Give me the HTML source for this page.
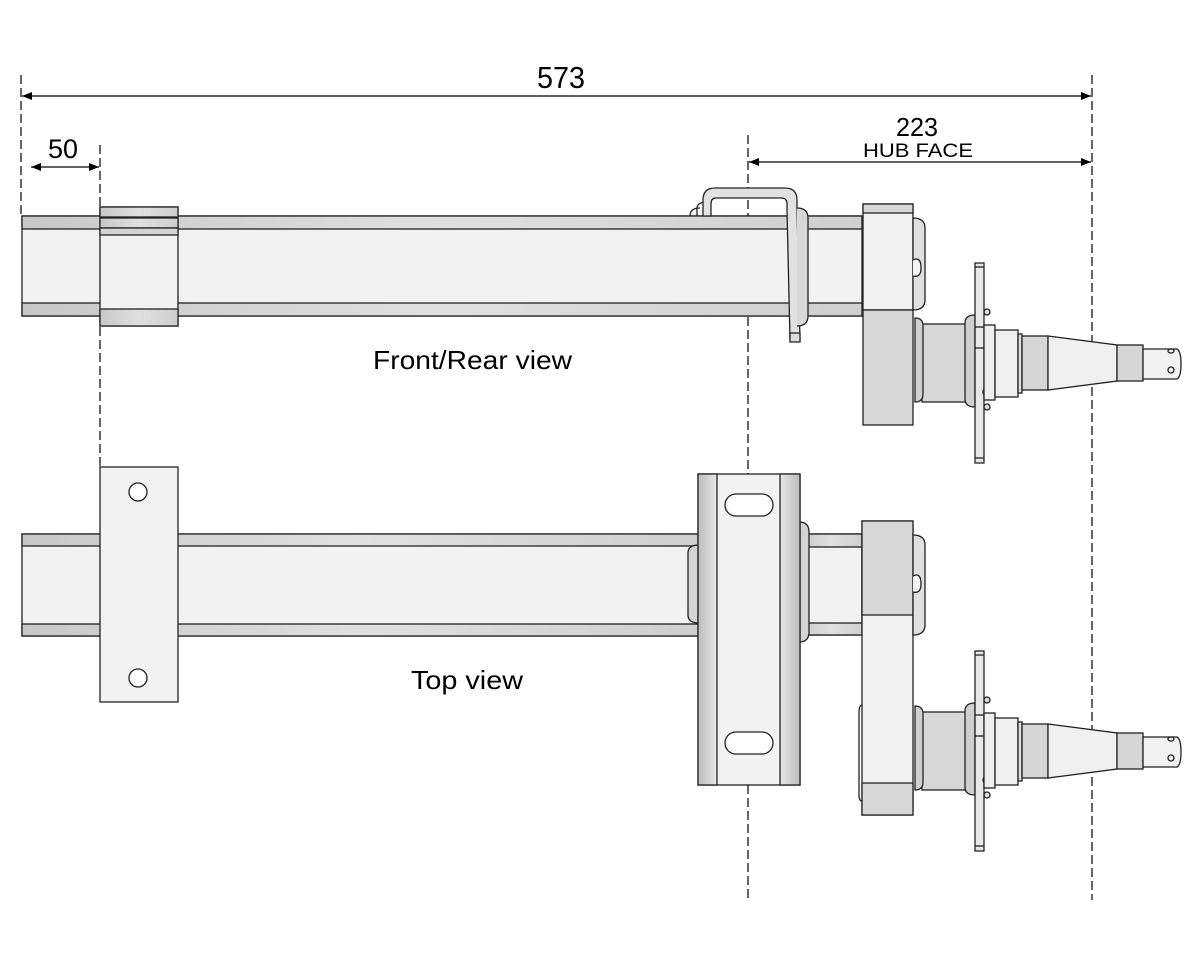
<!DOCTYPE html>
<html><head><meta charset="utf-8"><style>html,body{margin:0;padding:0;background:#fff}svg{display:block}</style></head>
<body>
<svg width="1200" height="960" viewBox="0 0 1200 960" xmlns="http://www.w3.org/2000/svg" font-family="Liberation Sans, sans-serif">
<defs>
<linearGradient id="g1" x1="0" x2="1"><stop offset="0" stop-color="#c8c8c8"/><stop offset="0.5" stop-color="#e0e0e0"/><stop offset="1" stop-color="#cfcfcf"/></linearGradient>
<linearGradient id="gv" x1="0" x2="1"><stop offset="0" stop-color="#bdbdbd"/><stop offset="1" stop-color="#e6e6e6"/></linearGradient>
<linearGradient id="gv2" x1="0" x2="1"><stop offset="0" stop-color="#e6e6e6"/><stop offset="1" stop-color="#bdbdbd"/></linearGradient>
<marker id="ae" viewBox="0 0 10 10" refX="10" refY="5" markerWidth="12" markerHeight="10" markerUnits="userSpaceOnUse" orient="auto"><path d="M0,1 L10,5 L0,9 z" fill="#000"/></marker>
<marker id="as" viewBox="0 0 10 10" refX="0" refY="5" markerWidth="12" markerHeight="10" markerUnits="userSpaceOnUse" orient="auto"><path d="M10,1 L0,5 L10,9 z" fill="#000"/></marker>
<g id="spindle" stroke="#222" stroke-width="1.3">
  <rect x="922" y="324" width="46" height="78" fill="#d8d8d8"/>
  <path d="M915,318 q8,0 8,8 v68 q0,8 -8,8 z" fill="#d0d0d0"/>
  <path d="M975,315 q-10,0 -10,8 v76 q0,8 10,8 z" fill="#d0d0d0"/>
  <rect x="975" y="263" width="9" height="200" fill="#e8e8e8"/>
  <line x1="975" y1="267" x2="984" y2="267"/><line x1="975" y1="458" x2="984" y2="458"/>
  <line x1="975" y1="327" x2="984" y2="327"/><line x1="975" y1="348" x2="984" y2="348"/>
  <circle cx="987" cy="312" r="3" fill="#ddd"/><circle cx="987" cy="392" r="4" fill="#ddd"/><circle cx="987" cy="407" r="3" fill="#ddd"/>
  <rect x="984" y="325" width="11" height="75" fill="#eee"/>
  <rect x="995" y="330" width="23" height="67" fill="#f0f0f0"/>
  <rect x="1018" y="334" width="4" height="59" fill="#ddd"/>
  <rect x="1022" y="336" width="26" height="54" fill="#d6d6d6"/>
  <path d="M1048,336 L1117,345 V381 L1048,390 z" fill="#f0f0f0"/>
  <rect x="1117" y="345" width="26" height="36" fill="#d6d6d6"/>
  <path d="M1143,349 H1177 q4,2 4,15 q0,13 -4,15 H1143 z" fill="#f2f2f2"/>
  <ellipse cx="1171" cy="351" rx="3" ry="2" fill="none"/><ellipse cx="1171" cy="370" rx="3" ry="3" fill="none"/>
</g>
</defs>

<g stroke="#000" stroke-width="1.2" stroke-dasharray="9,4" fill="none">
  <line x1="21" y1="75" x2="21" y2="215"/>
  <line x1="100" y1="145" x2="100" y2="470"/>
  <line x1="748" y1="135" x2="748" y2="900"/>
  <line x1="1092" y1="75" x2="1092" y2="900"/>
</g>
<g stroke="#000" stroke-width="1.3">
  <line x1="22" y1="96" x2="1091" y2="96" marker-start="url(#as)" marker-end="url(#ae)"/>
  <line x1="31" y1="167" x2="99" y2="167" marker-start="url(#as)" marker-end="url(#ae)"/>
  <line x1="749" y1="162" x2="1091" y2="162" marker-start="url(#as)" marker-end="url(#ae)"/>
</g>
<text x="561" y="88" font-size="31" text-anchor="middle" textLength="48" lengthAdjust="spacingAndGlyphs">573</text>
<text x="63" y="158" font-size="27" text-anchor="middle" textLength="30" lengthAdjust="spacingAndGlyphs">50</text>
<text x="917" y="136" font-size="26" text-anchor="middle" textLength="42" lengthAdjust="spacingAndGlyphs">223</text>
<text x="918" y="157" font-size="19" text-anchor="middle" textLength="110" lengthAdjust="spacingAndGlyphs">HUB FACE</text>

<g stroke="#222" stroke-width="1.3">
  <rect x="22" y="216" width="840" height="100" fill="#f2f2f2"/>
  <rect x="22" y="216" width="840" height="13" fill="url(#g1)"/>
  <rect x="22" y="303" width="840" height="13" fill="url(#g1)"/>
  <rect x="100" y="207" width="78" height="119" fill="#f2f2f2"/>
  <rect x="100" y="207" width="78" height="10" fill="url(#g1)"/>
  <rect x="100" y="218" width="78" height="10" fill="url(#g1)"/>
  <rect x="100" y="228" width="78" height="7" fill="#d4d4d4"/>
  <rect x="100" y="309" width="78" height="17" fill="url(#g1)"/>
  <path d="M697,216 v-8 q0,-5 8,-6 M690,216 q0,-8 10,-8" fill="none"/>
  <path d="M703,216 V200 q0,-12 12,-12 H785 q12,0 12,12 V208 L800,340 H790 L787,210 V204 q0,-6 -6,-6 H716 q-5,0 -5,6 V216 z" fill="#e2e2e2"/>
  <rect x="790" y="333" width="10" height="9" fill="#ddd"/>
  <path d="M797,208 q11,0 11,10 V316 q0,10 -11,10" fill="#d8d8d8"/>
  <rect x="863" y="204" width="50" height="106" fill="#f2f2f2"/>
  <rect x="863" y="204" width="50" height="9" fill="#d8d8d8"/>
  <rect x="863" y="310" width="50" height="115" fill="#d8d8d8"/>
  <path d="M913,218 q12,0 12,10 V300 q0,10 -12,10 z" fill="#e0e0e0"/>
  <path d="M913,260 q8,-4 8,8 q0,10 -8,8" fill="#f4f4f4"/>
</g>
<use href="#spindle"/>
<text x="373" y="369" font-size="26" textLength="199" lengthAdjust="spacingAndGlyphs">Front/Rear view</text>

<g stroke="#222" stroke-width="1.3">
  <rect x="22" y="534" width="678" height="102" fill="#f2f2f2"/>
  <rect x="22" y="534" width="678" height="12" fill="url(#g1)"/>
  <rect x="22" y="624" width="678" height="12" fill="url(#g1)"/>
  <rect x="800" y="534" width="62" height="101" fill="#f2f2f2"/>
  <rect x="800" y="534" width="62" height="13" fill="url(#g1)"/>
  <rect x="800" y="623" width="62" height="12" fill="url(#g1)"/>
  <rect x="100" y="467" width="78" height="235" fill="#f2f2f2"/>
  <circle cx="138" cy="492" r="9" fill="#fff"/>
  <circle cx="138" cy="678" r="9" fill="#fff"/>
  <path d="M699,545 q-11,0 -11,8 V615 q0,8 11,8 z" fill="#d4d4d4"/>
  <path d="M799,522 q10,0 10,10 V632 q0,10 -10,10 z" fill="#d4d4d4"/>
  <rect x="698" y="474" width="102" height="311" fill="#f2f2f2"/>
  <rect x="698" y="474" width="19" height="311" fill="url(#gv)"/>
  <rect x="780" y="474" width="20" height="311" fill="url(#gv2)"/>
  <rect x="725" y="494" width="48" height="22" rx="11" fill="#fff"/>
  <rect x="725" y="732" width="48" height="22" rx="11" fill="#fff"/>
  <rect x="862" y="521" width="51" height="294" fill="#f2f2f2"/>
  <rect x="862" y="521" width="51" height="94" fill="#d8d8d8"/>
  <rect x="862" y="783" width="51" height="32" fill="#d8d8d8"/>
  <path d="M913,535 q12,0 12,10 V625 q0,10 -12,10 z" fill="#e0e0e0"/>
  <path d="M913,576 q8,-4 8,8 q0,10 -8,8" fill="#f4f4f4"/>
  <path d="M862,705 q-3,0 -3,8 V795 q0,6 3,6" fill="none"/>
</g>
<use href="#spindle" transform="translate(0,388)"/>
<text x="411" y="689" font-size="26" textLength="112" lengthAdjust="spacingAndGlyphs">Top view</text>
</svg>
</body></html>
